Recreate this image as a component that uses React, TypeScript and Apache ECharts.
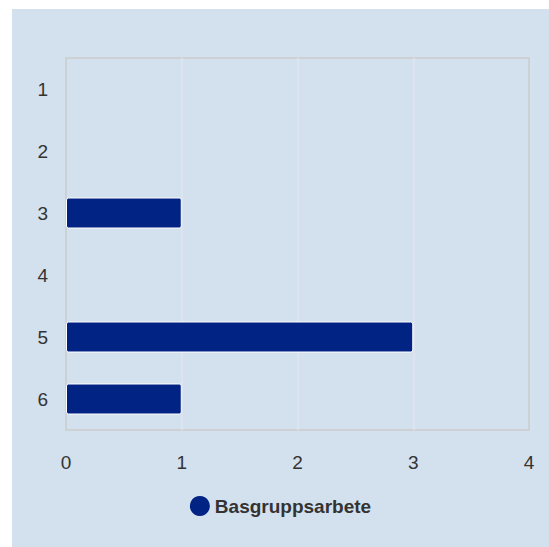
import React, { useEffect, useRef } from "react";
import * as echarts from "echarts";

const categories = ["1", "2", "3", "4", "5", "6"];
const values = [0, 0, 1, 0, 3, 1];
const seriesName = "Basgruppsarbete";
const xMax = 4;

export default function App() {
  const ref = useRef<HTMLDivElement>(null);
  useEffect(() => {
    const chart = echarts.init(ref.current!, null, { renderer: "svg" });
    chart.setOption({
      animation: false,
      backgroundColor: "#d3e0ee",
      textStyle: { fontFamily: "Liberation Sans, Arial, sans-serif" },
      grid: {
        left: 54,
        top: 49,
        right: 20,
        bottom: 117,
        containLabel: false,
        show: true,
        borderColor: "#cccccc",
        borderWidth: 1.5,
        backgroundColor: "transparent",
      },
      legend: {
        data: [seriesName],
        top: 482,
        left: "center",
        icon: "circle",
        itemWidth: 20,
        itemHeight: 20,
        itemGap: 10,
        itemStyle: { borderWidth: 0 },
        textStyle: { fontSize: 19, fontWeight: "bold", color: "#333333" },
      },
      xAxis: {
        type: "value",
        min: 0,
        max: xMax,
        interval: 1,
        axisLine: { show: false },
        axisTick: { show: false },
        splitLine: {
          show: true,
          showMinLine: false,
          showMaxLine: false,
          lineStyle: { color: "#e0e6ef", width: 1.5 },
        },
        axisLabel: { fontSize: 19, color: "#333333", margin: 23 },
      },
      yAxis: {
        type: "category",
        data: categories,
        inverse: true,
        axisLine: { show: false },
        axisTick: { show: false },
        splitLine: { show: false },
        axisLabel: { fontSize: 19, color: "#333333", margin: 18 },
      },
      series: [
        {
          name: seriesName,
          type: "bar",
          data: values.map((v) =>
            v === 0 ? { value: v, itemStyle: { borderWidth: 0 } } : v
          ),
          barWidth: "50%",
          itemStyle: {
            color: "#002384",
            borderColor: "#ffffff",
            borderWidth: 1,
            borderRadius: 2,
          },
        },
      ],
    });
    return () => chart.dispose();
  }, []);
  return (
    <div
      ref={ref}
      style={{ position: "absolute", left: 12, top: 9, width: 537, height: 538 }}
    />
  );
}
